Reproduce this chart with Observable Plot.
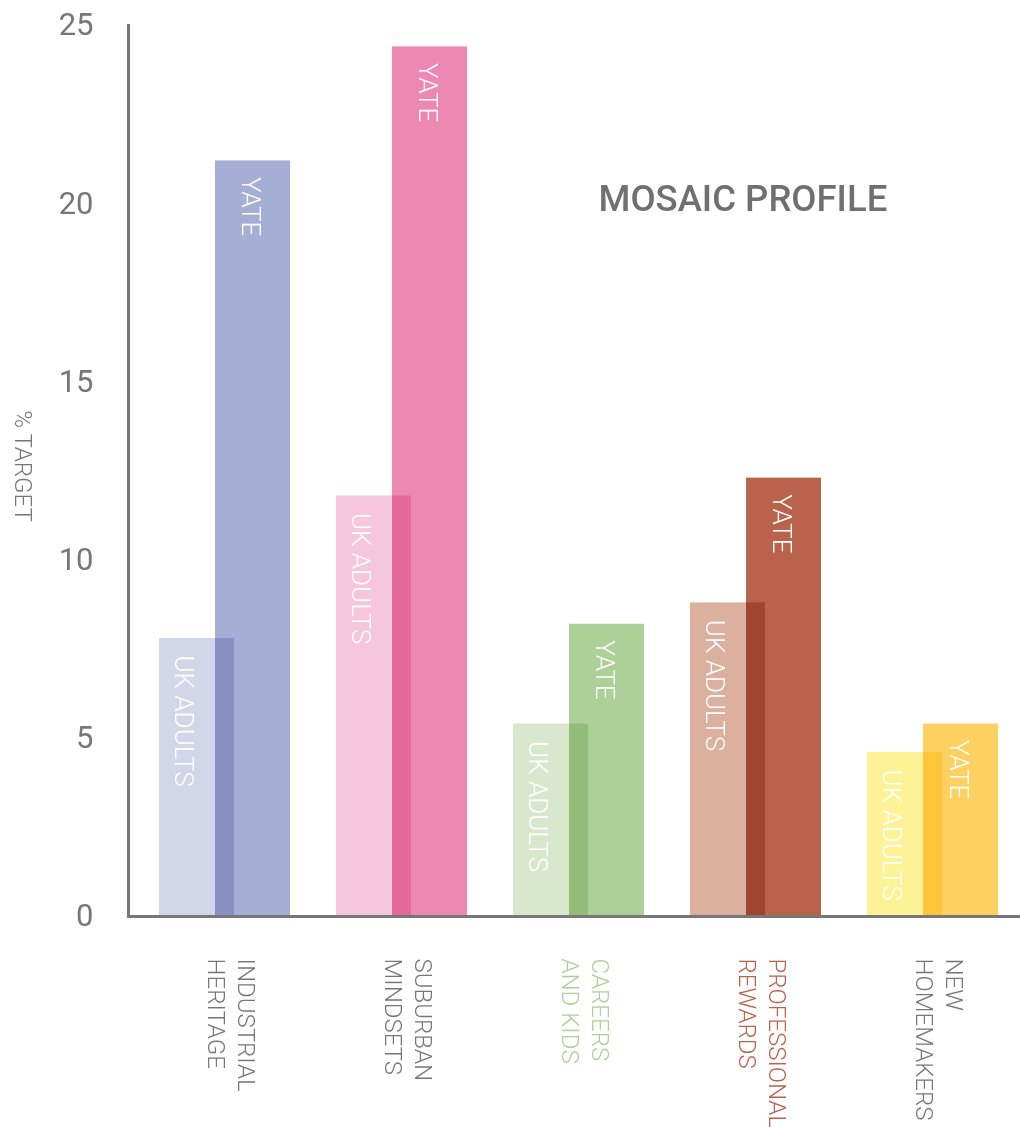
<!DOCTYPE html>
<html>
<head>
<meta charset="utf-8">
<script src="https://cdn.jsdelivr.net/npm/d3@7"></script>
<script src="https://cdn.jsdelivr.net/npm/@observablehq/plot@0.6"></script>
<style>
  body { margin: 0; background: #fff; }
  #chart svg { display: block; }
</style>
</head>
<body>
<div id="chart"></div>
<script>
const categories = ["Industrial Heritage", "Suburban Mindsets", "Careers and Kids", "Professional Rewards", "New Homemakers"];
const categoryLabels = ["INDUSTRIAL\nHERITAGE", "SUBURBAN\nMINDSETS", "CAREERS\nAND KIDS", "PROFESSIONAL\nREWARDS", "NEW\nHOMEMAKERS"];
const ukAdults = [7.8, 11.8, 5.4, 8.8, 4.6];
const yate = [21.2, 24.4, 8.2, 12.3, 5.4];
const yTicks = [0, 5, 10, 15, 20, 25];
const ukColors = ["#d3d5e9", "#f6c6dc", "#d9e8cd", "#dcb09f", "#fef296"];
const yateColors = ["#a5aed5", "#ec88b1", "#add098", "#b9634c", "#fdd062"];
const labelColors = ["#777777", "#777777", "#add098", "#b9634c", "#777777"];

const rows = categories.map((c, i) => ({
  category: c,
  label: categoryLabels[i],
  uk: ukAdults[i],
  yate: yate[i],
  ukColor: ukColors[i],
  yateColor: yateColors[i],
  labelColor: labelColors[i]
}));

const chart = Plot.plot({
  width: 1020,
  height: 1127,
  marginLeft: 128,
  marginRight: 0,
  marginTop: 25,
  marginBottom: 211,
  style: { fontFamily: "Roboto, 'Noto Sans', sans-serif", background: "#fff" },
  color: { type: "identity" },
  x: { domain: categories, paddingInner: 0.262, paddingOuter: 0.144, align: 0.588, axis: null },
  y: { domain: [0, 25], ticks: yTicks, axis: null },
  marks: [
    Plot.barY(rows, { x: "category", y: "uk", fill: "ukColor", insetLeft: 0, insetRight: 56 }),
    Plot.barY(rows, { x: "category", y: "yate", fill: "yateColor", insetLeft: 56, insetRight: 0, mixBlendMode: "multiply" }),
    Plot.text(rows, { x: "category", y: "uk", text: () => "UK ADULTS", rotate: 90, textAnchor: "start", lineAnchor: "middle", dx: -42, dy: 17, fontSize: 26, fontWeight: 300, fill: "white" }),
    Plot.text(rows, { x: "category", y: "yate", text: () => "YATE", rotate: 90, textAnchor: "start", lineAnchor: "middle", dx: 25, dy: 16, fontSize: 26, fontWeight: 300, fill: "white" }),
    Plot.axisY({ ticks: yTicks, tickSize: 0, tickPadding: 35, fontSize: 31, fontWeight: 400, fill: "#777", label: null }),
    Plot.text(rows, { x: "category", frameAnchor: "bottom", text: "label", rotate: 90, textAnchor: "start", lineAnchor: "middle", lineHeight: 1.25, dx: 8, dy: 42, fontSize: 24, fontWeight: 300, fill: "labelColor" }),
    Plot.text(["% TARGET"], { frameAnchor: "left", text: d => d, rotate: 90, textAnchor: "middle", lineAnchor: "middle", dx: -106, dy: -5, fontSize: 24, fontWeight: 300, fill: "#777" }),
    Plot.text(["MOSAIC PROFILE"], { frameAnchor: "top-left", text: d => d, textAnchor: "start", lineAnchor: "middle", dx: 470, dy: 174, fontSize: 36.5, fontWeight: 500, fill: "#707070" }),
    Plot.ruleY([0], { stroke: "#777", strokeWidth: 3 }),
    Plot.frame({ anchor: "left", stroke: "#777", strokeWidth: 3 })
  ]
});
document.getElementById("chart").appendChild(chart);
</script>
</body>
</html>
